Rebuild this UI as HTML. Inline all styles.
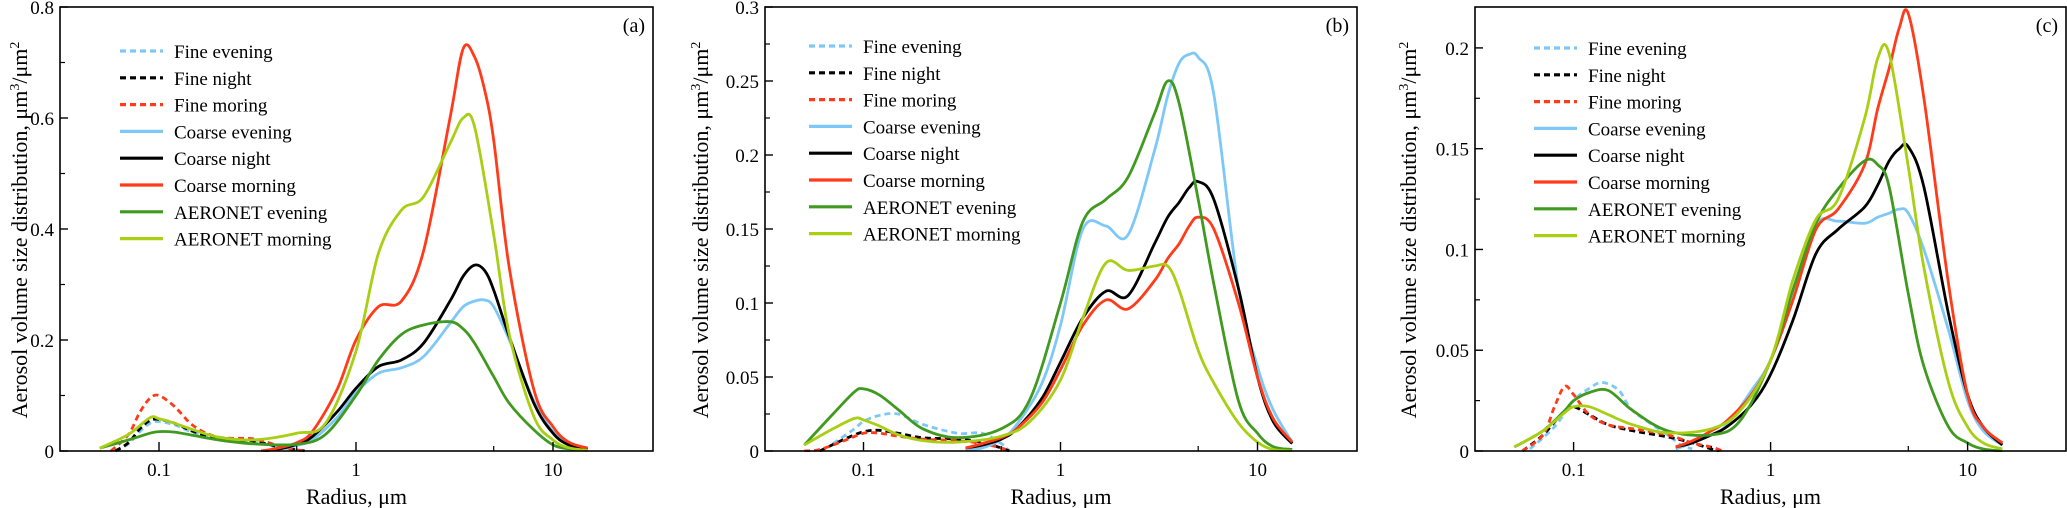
<!DOCTYPE html>
<html><head><meta charset="utf-8"><style>
body{margin:0;background:#fff}
svg{display:block}
text{font-family:"Liberation Serif",serif;fill:#000}
</style></head><body>
<svg id="chart" width="2067" height="508" viewBox="0 0 2067 508" xmlns="http://www.w3.org/2000/svg"></svg>
<script>
// ---- shared radius grids ----
const coarseR = [0.33,0.4,0.5,0.6,0.8,1,1.3,1.7,2.2,3,3.5,4,4.5,5,6,8,10,12,15];
const aeroR = [0.05,0.07,0.09,0.1,0.12,0.15,0.2,0.3,0.5,0.7,1,1.3,1.7,2.2,3,3.5,4,5,6,8,10,12,15];
const xTickVals = [0.1,1,10];
const xTickLabels = ["0.1","1","10"];
const legendLabels = ["Fine evening","Fine night","Fine moring","Coarse evening","Coarse night","Coarse morning","AERONET evening","AERONET morning"];

// ---- panel (a) ----
const aFineEveningR = [0.06,0.07,0.08,0.09,0.1,0.12,0.15,0.2,0.3,0.4,0.5,0.55];
const aFineEveningV = [0,0.013,0.035,0.05,0.053,0.047,0.033,0.021,0.016,0.007,0.002,0];
const aFineNightR = [0.06,0.07,0.08,0.09,0.1,0.12,0.15,0.2,0.3,0.4,0.5,0.55];
const aFineNightV = [0,0.015,0.04,0.055,0.057,0.05,0.035,0.022,0.018,0.008,0.002,0];
const aFineMorningR = [0.057,0.07,0.08,0.09,0.1,0.12,0.15,0.2,0.3,0.4,0.5,0.55];
const aFineMorningV = [0,0.03,0.07,0.095,0.1,0.08,0.045,0.025,0.022,0.01,0.002,0];
const aCoarseEveningV = [0,0.003,0.01,0.02,0.06,0.105,0.14,0.15,0.17,0.23,0.26,0.27,0.272,0.26,0.2,0.09,0.035,0.012,0.003];
const aCoarseNightV = [0,0.003,0.012,0.026,0.07,0.113,0.152,0.164,0.194,0.27,0.315,0.335,0.325,0.29,0.206,0.086,0.032,0.011,0.003];
const aCoarseMorningV = [0,0.005,0.015,0.035,0.11,0.2,0.26,0.27,0.36,0.6,0.725,0.71,0.65,0.56,0.33,0.11,0.044,0.016,0.005];
const aAeroEveningV = [0.005,0.02,0.032,0.035,0.034,0.028,0.02,0.013,0.012,0.03,0.1,0.164,0.21,0.227,0.233,0.22,0.194,0.134,0.086,0.038,0.011,0.004,0.001];
const aAeroMorningV = [0.005,0.03,0.06,0.058,0.05,0.038,0.025,0.02,0.032,0.05,0.18,0.356,0.434,0.458,0.554,0.6,0.584,0.39,0.21,0.062,0.02,0.006,0.001];
const aYTicks = [0,0.2,0.4,0.6,0.8];
const aYTickLabels = ["0","0.2","0.4","0.6","0.8"];

// ---- panel (b) ----
const bFineEveningR = [0.07,0.09,0.1,0.12,0.15,0.2,0.3,0.4,0.5,0.55];
const bFineEveningV = [0.005,0.015,0.02,0.024,0.025,0.018,0.012,0.012,0.005,0];
const bFineNightR = [0.06,0.08,0.1,0.12,0.15,0.2,0.3,0.4,0.5,0.55];
const bFineNightV = [0,0.008,0.013,0.014,0.012,0.009,0.008,0.006,0.002,0];
const bFineMorningR = [0.05,0.06,0.08,0.1,0.12,0.15,0.2,0.3,0.4,0.5,0.55];
const bFineMorningV = [0,0.001,0.007,0.012,0.012,0.01,0.008,0.007,0.005,0.002,0];
const bCoarseEveningV = [0.001,0.002,0.008,0.018,0.045,0.085,0.15,0.152,0.146,0.203,0.24,0.262,0.268,0.266,0.241,0.11,0.057,0.028,0.006];
const bCoarseNightV = [0.002,0.004,0.008,0.015,0.035,0.06,0.09,0.108,0.105,0.14,0.158,0.168,0.178,0.182,0.17,0.11,0.05,0.02,0.005];
const bCoarseMorningV = [0.002,0.005,0.009,0.015,0.032,0.055,0.085,0.102,0.096,0.115,0.13,0.14,0.152,0.158,0.15,0.1,0.05,0.022,0.006];
const bAeroEveningV = [0.004,0.025,0.04,0.042,0.038,0.028,0.015,0.009,0.015,0.035,0.1,0.155,0.17,0.185,0.228,0.25,0.235,0.17,0.113,0.034,0.012,0.003,0.001];
const bAeroMorningV = [0.004,0.015,0.022,0.021,0.017,0.011,0.007,0.006,0.01,0.02,0.048,0.09,0.127,0.122,0.125,0.125,0.109,0.068,0.046,0.019,0.006,0.001,0];
const bYTicks = [0,0.05,0.1,0.15,0.2,0.25,0.3];
const bYTickLabels = ["0","0.05","0.1","0.15","0.2","0.25","0.3"];

// ---- panel (c) ----
const cFineEveningR = [0.06,0.08,0.1,0.12,0.14,0.17,0.2,0.3,0.35,0.4];
const cFineEveningV = [0.001,0.012,0.025,0.031,0.034,0.03,0.02,0.008,0.003,0.001];
const cFineNightR = [0.055,0.07,0.09,0.1,0.12,0.15,0.2,0.3,0.4,0.5,0.55];
const cFineNightV = [0,0.008,0.02,0.022,0.018,0.013,0.01,0.007,0.004,0.001,0];
const cFineMorningR = [0.055,0.07,0.08,0.09,0.1,0.12,0.15,0.2,0.3,0.4,0.5,0.57];
const cFineMorningV = [0,0.008,0.022,0.032,0.028,0.018,0.013,0.011,0.008,0.004,0.002,0];
const cCoarseEveningV = [0.001,0.004,0.008,0.013,0.03,0.045,0.075,0.112,0.114,0.113,0.116,0.118,0.12,0.118,0.1,0.06,0.025,0.01,0.003];
const cCoarseNightV = [0.002,0.004,0.008,0.012,0.023,0.038,0.065,0.098,0.11,0.121,0.132,0.144,0.15,0.151,0.131,0.068,0.028,0.012,0.003];
const cCoarseMorningV = [0.002,0.005,0.01,0.015,0.028,0.045,0.075,0.11,0.12,0.142,0.17,0.19,0.21,0.217,0.175,0.083,0.028,0.012,0.004];
const cAeroEveningV = [0.002,0.01,0.02,0.025,0.029,0.03,0.02,0.01,0.008,0.015,0.045,0.08,0.113,0.13,0.144,0.142,0.131,0.078,0.042,0.012,0.004,0.001,0];
const cAeroMorningV = [0.002,0.01,0.019,0.022,0.022,0.018,0.013,0.009,0.011,0.02,0.045,0.085,0.115,0.125,0.165,0.195,0.197,0.141,0.091,0.034,0.012,0.004,0.001];
const cYTicks = [0,0.05,0.1,0.15,0.2];
const cYTickLabels = ["0","0.05","0.1","0.15","0.2"];

const COL = {fe:"#7ec8f8", fn:"#000000", fm:"#ff3b1a", ce:"#7ec8f8", cn:"#000000", cm:"#ff3b1a", ae:"#3f9a1f", am:"#a8cf14"};
const NS = "http://www.w3.org/2000/svg";
const svg = document.getElementById("chart");

function mk(tag, attrs, parent){
  const e = document.createElementNS(NS, tag);
  for (const k in attrs) e.setAttribute(k, attrs[k]);
  (parent||svg).appendChild(e);
  return e;
}

function smoothPath(pts){
  let d = "M" + pts[0][0].toFixed(1) + "," + pts[0][1].toFixed(1);
  for (let i=0;i<pts.length-1;i++){
    const p0 = pts[i-1]||pts[i], p1 = pts[i], p2 = pts[i+1], p3 = pts[i+2]||pts[i+1];
    const c1 = [p1[0]+(p2[0]-p0[0])/6, p1[1]+(p2[1]-p0[1])/6];
    const c2 = [p2[0]-(p3[0]-p1[0])/6, p2[1]-(p3[1]-p1[1])/6];
    d += "C"+c1[0].toFixed(1)+","+c1[1].toFixed(1)+" "+c2[0].toFixed(1)+","+c2[1].toFixed(1)+" "+p2[0].toFixed(1)+","+p2[1].toFixed(1);
  }
  return d;
}

function panel(cfg){
  const g = mk("g", {});
  
  
  const L=cfg.left, R=cfg.right, T=7, B=451;
  const xScale = r => cfg.x01 + (Math.log10(r)+1)*197;
  const yScale = v => B - v/cfg.ymax*(B-T);

  // series
  const series = [
    ["fine-evening", cfg.fe[0], cfg.fe[1], COL.fe, true],
    ["fine-night", cfg.fn[0], cfg.fn[1], COL.fn, true],
    ["fine-morning", cfg.fm[0], cfg.fm[1], COL.fm, true],
    ["aeronet-evening", aeroR, cfg.ae, COL.ae, false],
    ["aeronet-morning", aeroR, cfg.am, COL.am, false],
    ["coarse-evening", coarseR, cfg.ce, COL.ce, false],
    ["coarse-night", coarseR, cfg.cn, COL.cn, false],
    ["coarse-morning", coarseR, cfg.cm, COL.cm, false]
  ];
  const order = [0,1,2,5,6,7,3,4];
  for (const i of order){
    const s = series[i];
    const pts = s[1].map((r,k)=>[xScale(r), Math.min(B, yScale(s[2][k]))]);
    const p = mk("path", {d:smoothPath(pts), fill:"none", stroke:s[3], "stroke-width":2.8, "stroke-linejoin":"round", "stroke-dasharray": s[4]?"6,4":"none"}, g);
    
    
  }
  // cover overshoot below axis
  mk("rect", {x:L, y:B+1, width:R-L, height:6, fill:"#fff"}, g);

  // frame
  const f = mk("rect", {x:L, y:T, width:R-L, height:B-T, fill:"none", stroke:"#000", "stroke-width":1.6}, g);
  
  

  // x ticks
  xTickVals.forEach((v,i)=>{
    const x = xScale(v);
    mk("line", {x1:x, x2:x, y1:B, y2:B-9, stroke:"#000", "stroke-width":1.4}, g);
    const t = mk("text", {x:x, y:476, "text-anchor":"middle", "font-size":19}, g);
    t.textContent = xTickLabels[i];
    
    
  });
  [0.5,5].forEach(v=>{
    const x = xScale(v);
    mk("line", {x1:x, x2:x, y1:B, y2:B-5, stroke:"#000", "stroke-width":1.2}, g);
  });
  // y ticks
  cfg.yt.forEach((v,i)=>{
    const y = yScale(v);
    mk("line", {x1:L, x2:L+8, y1:y, y2:y, stroke:"#000", "stroke-width":1.4}, g);
    const t = mk("text", {x:L-6, y:y+7, "text-anchor":"end", "font-size":19}, g);
    t.textContent = cfg.ytl[i];
    
    
    if (i < cfg.yt.length-1){
      const ym = yScale((v+cfg.yt[i+1])/2);
      mk("line", {x1:L, x2:L+5, y1:ym, y2:ym, stroke:"#000", "stroke-width":1.2}, g);
    }
  });
  if (cfg.extraMinor){ const ym = yScale(cfg.extraMinor); mk("line",{x1:L,x2:L+5,y1:ym,y2:ym,stroke:"#000","stroke-width":1.2},g); }

  // titles
  const xt = mk("text", {x:(L+R)/2, y:504, "text-anchor":"middle", "font-size":22}, g);
  xt.textContent = "Radius, μm";
  
  
  const yt = mk("text", {x:0, y:0, "text-anchor":"middle", "font-size":22, transform:"translate("+(cfg.ytx)+",230) rotate(-90)"}, g);
  yt.innerHTML = 'Aerosol volume size distribution, μm<tspan dy="-8" font-size="14">3</tspan><tspan dy="8">/μm</tspan><tspan dy="-8" font-size="14">2</tspan>';
  
  
  const pl = mk("text", {x:R-8, y:32, "text-anchor":"end", "font-family":"Liberation Sans, sans-serif", "font-size":20}, g);
  pl.textContent = "(" + cfg.id + ")";
  
  

  // legend
  const lg = mk("g", {}, g);
  
  
  const legCols = [COL.fe,COL.fn,COL.fm,COL.ce,COL.cn,COL.cm,COL.ae,COL.am];
  legendLabels.forEach((lab,i)=>{
    const y = cfg.legY + i*26.8;
    const e = mk("g", {}, lg);
    
    
    mk("line", {x1:cfg.legX, x2:cfg.legX+43, y1:y, y2:y, stroke:legCols[i], "stroke-width":3.2, "stroke-dasharray": i<3?"6,4":"none"}, e);
    const t = mk("text", {x:cfg.legX+54, y:y+7, "font-size":19}, e);
    t.textContent = lab;
  });
}

panel({id:"a", left:60, right:653, x01:159, ymax:0.8, yt:aYTicks, ytl:aYTickLabels, ytx:27, legX:120, legY:51,
  fe:[aFineEveningR,aFineEveningV], fn:[aFineNightR,aFineNightV], fm:[aFineMorningR,aFineMorningV],
  ce:aCoarseEveningV, cn:aCoarseNightV, cm:aCoarseMorningV, ae:aAeroEveningV, am:aAeroMorningV});
panel({id:"b", left:765, right:1357, x01:863.5, ymax:0.3, yt:bYTicks, ytl:bYTickLabels, ytx:708, legX:809, legY:46,
  fe:[bFineEveningR,bFineEveningV], fn:[bFineNightR,bFineNightV], fm:[bFineMorningR,bFineMorningV],
  ce:bCoarseEveningV, cn:bCoarseNightV, cm:bCoarseMorningV, ae:bAeroEveningV, am:bAeroMorningV});
panel({id:"c", left:1475, right:2066, x01:1573.6, ymax:0.2203, yt:cYTicks, ytl:cYTickLabels, ytx:1416, legX:1534, legY:48, extraMinor:0.225,
  fe:[cFineEveningR,cFineEveningV], fn:[cFineNightR,cFineNightV], fm:[cFineMorningR,cFineMorningV],
  ce:cCoarseEveningV, cn:cCoarseNightV, cm:cCoarseMorningV, ae:cAeroEveningV, am:cAeroMorningV});
</script>
</body></html>
